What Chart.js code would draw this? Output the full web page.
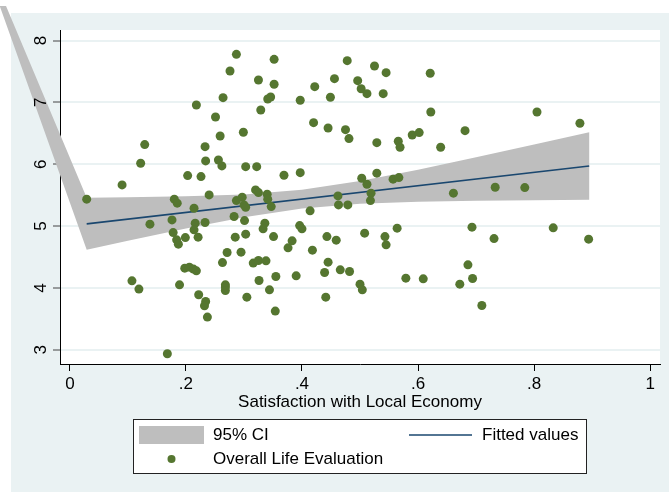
<!DOCTYPE html>
<html>
<head>
<meta charset="utf-8">
<script src="https://cdn.jsdelivr.net/npm/chart.js@4.4.1/dist/chart.umd.min.js"></script>
<style>
  body { margin: 0; background: #fff; }
  canvas { display: block; }
</style>
</head>
<body>
<canvas id="myChart" width="669" height="492"></canvas>
<script>
// Datos (x = satisfacción con la economía local, y = evaluación de vida)
const satEconomy = [
  0.029,0.090,0.122,0.129,0.107,0.119,0.138,0.180,0.185,0.176,
  0.178,0.184,0.187,0.199,0.189,0.168,0.198,0.206,0.213,0.218,
  0.214,0.216,0.214,0.221,0.233,0.240,0.222,0.234,0.232,0.237,
  0.263,0.271,0.268,0.268,0.268,0.285,0.283,0.301,0.295,0.305,
  0.303,0.287,0.297,0.300,0.303,0.218,0.251,0.259,0.233,0.234,
  0.256,0.262,0.203,0.226,0.264,0.276,0.287,0.299,0.303,0.352,
  0.325,0.352,0.341,0.346,0.329,0.397,0.422,0.456,0.449,0.478,
  0.496,0.502,0.512,0.525,0.545,0.540,0.621,0.622,0.420,0.445,
  0.475,0.481,0.529,0.566,0.569,0.590,0.602,0.639,0.322,0.369,
  0.397,0.503,0.512,0.529,0.557,0.567,0.661,0.320,0.325,0.340,
  0.462,0.519,0.341,0.347,0.336,0.333,0.351,0.414,0.396,0.400,
  0.383,0.376,0.418,0.443,0.459,0.463,0.479,0.518,0.508,0.543,
  0.545,0.564,0.316,0.325,0.338,0.326,0.344,0.355,0.354,0.390,
  0.445,0.439,0.466,0.482,0.441,0.500,0.504,0.579,0.609,0.672,
  0.681,0.805,0.879,0.733,0.784,0.693,0.731,0.833,0.894,0.686,
  0.694,0.710
];
const lifeEval = [
  5.435,5.666,6.016,6.317,4.115,3.981,5.031,5.435,5.370,5.100,
  4.895,4.777,4.708,4.814,4.050,2.935,4.320,4.336,4.304,4.276,
  5.289,5.047,4.939,4.821,5.057,5.504,3.889,3.780,3.711,3.528,
  4.410,4.572,4.050,4.013,3.958,4.821,5.154,5.089,4.578,3.851,
  4.869,5.412,5.467,5.342,5.305,6.958,6.764,6.457,6.284,6.053,
  6.069,5.973,5.816,5.800,7.076,7.507,7.777,6.517,5.961,7.696,
  7.362,7.292,7.055,7.087,6.877,7.034,7.254,7.383,7.082,7.674,
  7.351,7.221,7.141,7.588,7.480,7.141,7.470,6.845,6.672,6.586,
  6.559,6.414,6.349,6.372,6.275,6.473,6.511,6.275,5.961,5.822,
  5.864,5.774,5.677,5.855,5.758,5.784,5.532,5.585,5.541,5.515,
  5.488,5.532,5.435,5.315,5.047,4.955,4.830,5.246,5.008,4.955,
  4.761,4.648,4.611,4.830,4.772,5.342,5.342,5.412,4.885,4.830,
  4.696,4.966,4.401,4.443,4.438,4.120,3.969,4.184,3.625,4.195,
  4.417,4.249,4.292,4.265,3.851,4.061,3.969,4.158,4.147,4.061,
  6.543,6.845,6.662,5.628,5.622,4.982,4.798,4.971,4.788,4.373,
  4.152,3.716
];

// Recta ajustada
const fitX = [0.029, 0.895];
const fitY = [5.036, 5.970];

// Intervalo de confianza 95%
const ciX     = [0.029, 0.1,   0.2,   0.3,   0.4,   0.5,   0.6,   0.7,   0.8,   0.895];
const ciUpper = [5.457, 5.465, 5.481, 5.512, 5.586, 5.728, 5.912, 6.112, 6.317, 6.515];
const ciLower = [4.617, 4.761, 4.961, 5.144, 5.286, 5.360, 5.392, 5.408, 5.417, 5.425];
// punta suelta del área (sale fuera del gráfico)
const ciTipUpper = [-0.110, 8.56];
const ciTipLower = [-0.121, 8.56];

// Marcas de los ejes
const xTickValues = [0, 0.2, 0.4, 0.6, 0.8, 1];
const xTickLabels = ["0", ".2", ".4", ".6", ".8", "1"];
const yTickValues = [3, 4, 5, 6, 7, 8];
const yTickLabels = ["3", "4", "5", "6", "7", "8"];

const GREEN = "#557630";
const NAVY = "#1A476F";
const BAND = "#BEBEBE";
const PANEL = "#EAF2F3";
const FONT = '17px "Liberation Sans", Arial, sans-serif';

const stataPlugin = {
  id: "stata",
  beforeDraw(chart) {
    const { ctx, chartArea: a } = chart;
    ctx.save();
    ctx.fillStyle = "#fff";
    ctx.fillRect(0, 0, chart.width, chart.height);
    ctx.fillStyle = PANEL;
    ctx.fillRect(11, 13, chart.width - 11, chart.height - 13);
    ctx.fillStyle = "#fff";
    ctx.fillRect(a.left, a.top, a.right - a.left, a.bottom - a.top);
    ctx.restore();
  },
  beforeDatasetsDraw(chart) {
    const { ctx, scales: { x, y } } = chart;
    ctx.save();
    ctx.fillStyle = BAND;
    ctx.beginPath();
    ctx.moveTo(x.getPixelForValue(ciTipUpper[0]), y.getPixelForValue(ciTipUpper[1]));
    ciX.forEach((v, i) => ctx.lineTo(x.getPixelForValue(v), y.getPixelForValue(ciUpper[i])));
    for (let i = ciX.length - 1; i >= 0; i--) {
      ctx.lineTo(x.getPixelForValue(ciX[i]), y.getPixelForValue(ciLower[i]));
    }
    ctx.lineTo(x.getPixelForValue(ciTipLower[0]), y.getPixelForValue(ciTipLower[1]));
    ctx.closePath();
    ctx.fill();
    ctx.restore();
  },
  afterDraw(chart) {
    const { ctx, chartArea: a, scales: { x, y } } = chart;
    ctx.save();
    ctx.fillStyle = "#000";
    ctx.font = FONT;
    ctx.textBaseline = "middle";

    // etiquetas eje x
    ctx.textAlign = "center";
    xTickValues.forEach((v, i) => ctx.fillText(xTickLabels[i], x.getPixelForValue(v), 384));
    ctx.fillText("Satisfaction with Local Economy", (a.left + a.right) / 2, 402);

    // etiquetas eje y (giradas)
    yTickValues.forEach((v, i) => {
      ctx.save();
      ctx.translate(41, y.getPixelForValue(v));
      ctx.rotate(-Math.PI / 2);
      ctx.fillText(yTickLabels[i], 0, 0);
      ctx.restore();
    });

    // leyenda
    ctx.fillStyle = "#fff";
    ctx.fillRect(133, 419, 454, 55);
    ctx.strokeStyle = "#222";
    ctx.lineWidth = 1;
    ctx.strokeRect(133.5, 419.5, 453, 54);

    ctx.fillStyle = BAND;
    ctx.fillRect(139, 426, 65, 18);

    ctx.strokeStyle = NAVY;
    ctx.lineWidth = 1.5;
    ctx.beginPath();
    ctx.moveTo(409, 435);
    ctx.lineTo(472, 435);
    ctx.stroke();

    ctx.fillStyle = GREEN;
    ctx.beginPath();
    ctx.arc(171.5, 459, 4, 0, Math.PI * 2);
    ctx.fill();

    ctx.fillStyle = "#000";
    ctx.textAlign = "left";
    ctx.fillText("95% CI", 213, 435);
    ctx.fillText("Fitted values", 482, 435);
    ctx.fillText("Overall Life Evaluation", 213, 459);
    ctx.restore();
  }
};

const ctx = document.getElementById("myChart").getContext("2d");
new Chart(ctx, {
  type: "scatter",
  data: {
    datasets: [
      {
        label: "Overall Life Evaluation",
        data: satEconomy.map((v, i) => ({ x: v, y: lifeEval[i] })),
        backgroundColor: GREEN,
        borderColor: GREEN,
        borderWidth: 0,
        pointRadius: 4.5
      },
      {
        label: "Fitted values",
        type: "line",
        data: fitX.map((v, i) => ({ x: v, y: fitY[i] })),
        borderColor: NAVY,
        borderWidth: 1.6,
        pointRadius: 0,
        fill: false
      }
    ]
  },
  options: {
    responsive: false,
    animation: false,
    devicePixelRatio: 1,
    layout: { padding: { top: 30, right: 9, left: 0, bottom: 0 } },
    plugins: { legend: { display: false }, tooltip: { enabled: false } },
    scales: {
      x: {
        type: "linear",
        min: -0.017,
        max: 1.017,
        afterBuildTicks: s => { s.ticks = xTickValues.map(v => ({ value: v })); },
        afterFit: s => { s.height = 128; },
        ticks: { display: false },
        grid: { drawOnChartArea: false, drawTicks: true, tickLength: 7, tickColor: "#000", tickWidth: 1 },
        border: { display: true, color: "#000", width: 1 }
      },
      y: {
        type: "linear",
        min: 2.77,
        max: 8.17,
        afterBuildTicks: s => { s.ticks = yTickValues.map(v => ({ value: v })); },
        afterFit: s => { s.width = 60; },
        ticks: { display: false },
        grid: { color: PANEL, lineWidth: 2, drawTicks: true, tickLength: 7, tickColor: "#444", tickWidth: 1 },
        border: { display: true, color: "#000", width: 1 }
      }
    }
  },
  plugins: [stataPlugin]
});
</script>
</body>
</html>
